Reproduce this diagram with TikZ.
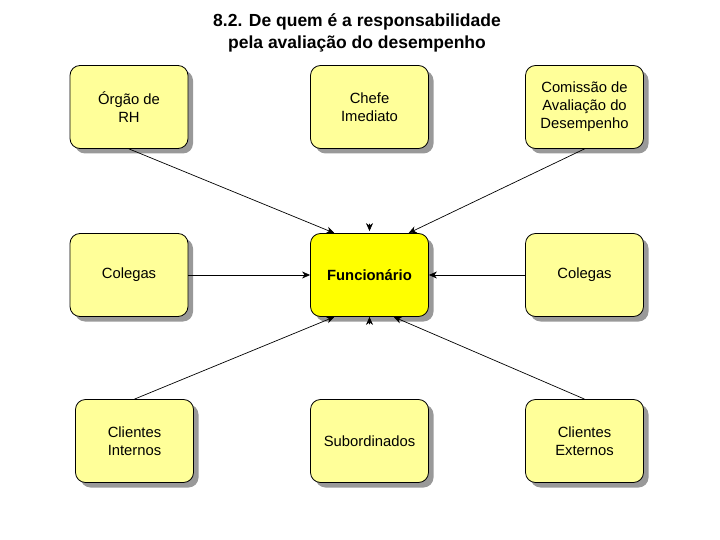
\documentclass[tikz,border=0pt]{standalone}
\usepackage{fontspec}
\setmainfont{Liberation Sans}
\usetikzlibrary{arrows.meta}
\usetikzlibrary{shadows}
\definecolor{amareloclaro}{RGB}{255,255,153}
\definecolor{amareloforte}{RGB}{255,255,0}

\begin{document}
\begin{tikzpicture}[x=1pt,y=-1pt,line cap=round]
\tikzset{caixa/.style={draw,rectangle,rounded corners=10pt,fill=amareloclaro,
        line width=0.8pt,minimum width=118pt,minimum height=83pt,align=center,
        font=\fontsize{14.8}{18}\selectfont,
        drop shadow={shadow xshift=5pt,shadow yshift=-5pt,fill=black!40,opacity=1}
    }
}
\tikzset{seta/.style={-{Stealth[length=8pt,width=7pt,inset=2.5pt]},line width=0.7pt}}

\useasboundingbox (0,0) rectangle (720,540);

\node[align=center,font=\bfseries\fontsize{17.5}{22}\selectfont] (titulo) at (357,33) {8.2. De quem é a responsabilidade\\pela avaliação do desempenho};

\node[caixa] (rh) at (129,107) {Órgão de\\RH};
\node[caixa] (chefe) at (369.5,107) {Chefe\\Imediato};
\node[caixa] (comissao) at (584.5,107) {Comissão de\\Avaliação do\\Desempenho};
\node[caixa] (colegasE) at (129,275) {Colegas};
\node[caixa,fill=amareloforte,font=\bfseries\fontsize{14.8}{18}\selectfont] (func) at (369.5,275) {Funcionário};
\node[caixa] (colegasD) at (584.5,275) {Colegas};
\node[caixa] (cliint) at (134.5,441) {Clientes\\Internos};
\node[caixa] (sub) at (369.5,441) {Subordinados};
\node[caixa] (cliext) at (584.5,441) {Clientes\\Externos};

\coordinate (chefeponta) at (369.5,224);
\coordinate (subponta) at (369.5,324);

\draw [seta] (rh.south) -- (func.130);
\draw [seta] (comissao.south) -- (func.47);
\draw [seta] (colegasE.east) -- (func.west);
\draw [seta] (colegasD.west) -- (func.east);
\draw [seta] (cliint.north) -- (func.230);
\draw [seta] (cliext.north) -- (func.300);
\draw [seta,shorten >=2pt] (chefeponta) -- (func.north);
\draw [seta] (subponta) -- (func.south);
\end{tikzpicture}
\end{document}
